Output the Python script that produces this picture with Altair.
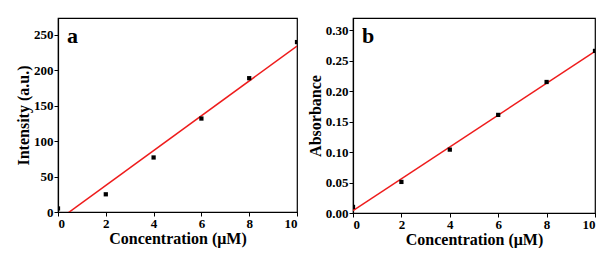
import altair as alt
import pandas as pd

conc = [0, 2, 4, 6, 8, 10]
intensity = [5, 25, 77, 132, 189, 240]
absorb = [0.010, 0.051, 0.104, 0.161, 0.215, 0.266]

df_a = pd.DataFrame({"c": conc, "v": intensity})
df_b = pd.DataFrame({"c": conc, "v": absorb})

FONT = "Liberation Serif"

def panel(df, ytitle, ydom, yvals, yfmt, label, w, h):
    x = alt.X("c:Q", title="Concentration (μM)",
              scale=alt.Scale(domain=[0, 10], nice=False),
              axis=alt.Axis(values=[0, 2, 4, 6, 8, 10], format="d",
                            labelFont=FONT, titleFont=FONT, titlePadding=0))
    y = alt.Y("v:Q", title=ytitle,
              scale=alt.Scale(domain=ydom, nice=False),
              axis=alt.Axis(values=yvals, format=yfmt, labelFont=FONT, titleFont=FONT))
    pts = alt.Chart(df).mark_square(size=18, color="black", opacity=1, clip=True).encode(x=x, y=y)
    fit = alt.Chart(df).transform_regression("c", "v", extent=[0, 10]).mark_line(
        color="#ee1c1c", strokeWidth=1.5, clip=True).encode(x=x, y=y)
    txt = alt.Chart(pd.DataFrame({"t": [label]})).mark_text(
        font=FONT, fontWeight="bold", fontSize=22, align="left", baseline="middle",
        color="black").encode(x=alt.value(9), y=alt.value(18), text="t:N")
    return alt.layer(fit, pts, txt).properties(width=w, height=h)

a = panel(df_a, "Intensity (a.u.)", [0, 274], [0, 50, 100, 150, 200, 250], "d", "a", 239, 194)
b = panel(df_b, "Absorbance", [0, 0.32], [0, 0.05, 0.10, 0.15, 0.20, 0.25, 0.30], ".2f", "b", 242, 195)

chart = alt.hconcat(a, b, spacing=7).configure_view(
    stroke="black", strokeWidth=1.2
).configure_axis(
    labelFont=FONT, titleFont=FONT, labelFontWeight="bold", titleFontWeight="bold",
    labelFontSize=13, titleFontSize=16, labelColor="black", titleColor="black",
    domainColor="black", tickColor="black", tickSize=4, grid=False,
    domainWidth=1.2, labelPadding=1, titlePadding=2
).properties(padding={"left": 6, "top": 9, "right": 0, "bottom": 0})

chart.save("out.html", embed_options={"renderer": "svg", "actions": False})
